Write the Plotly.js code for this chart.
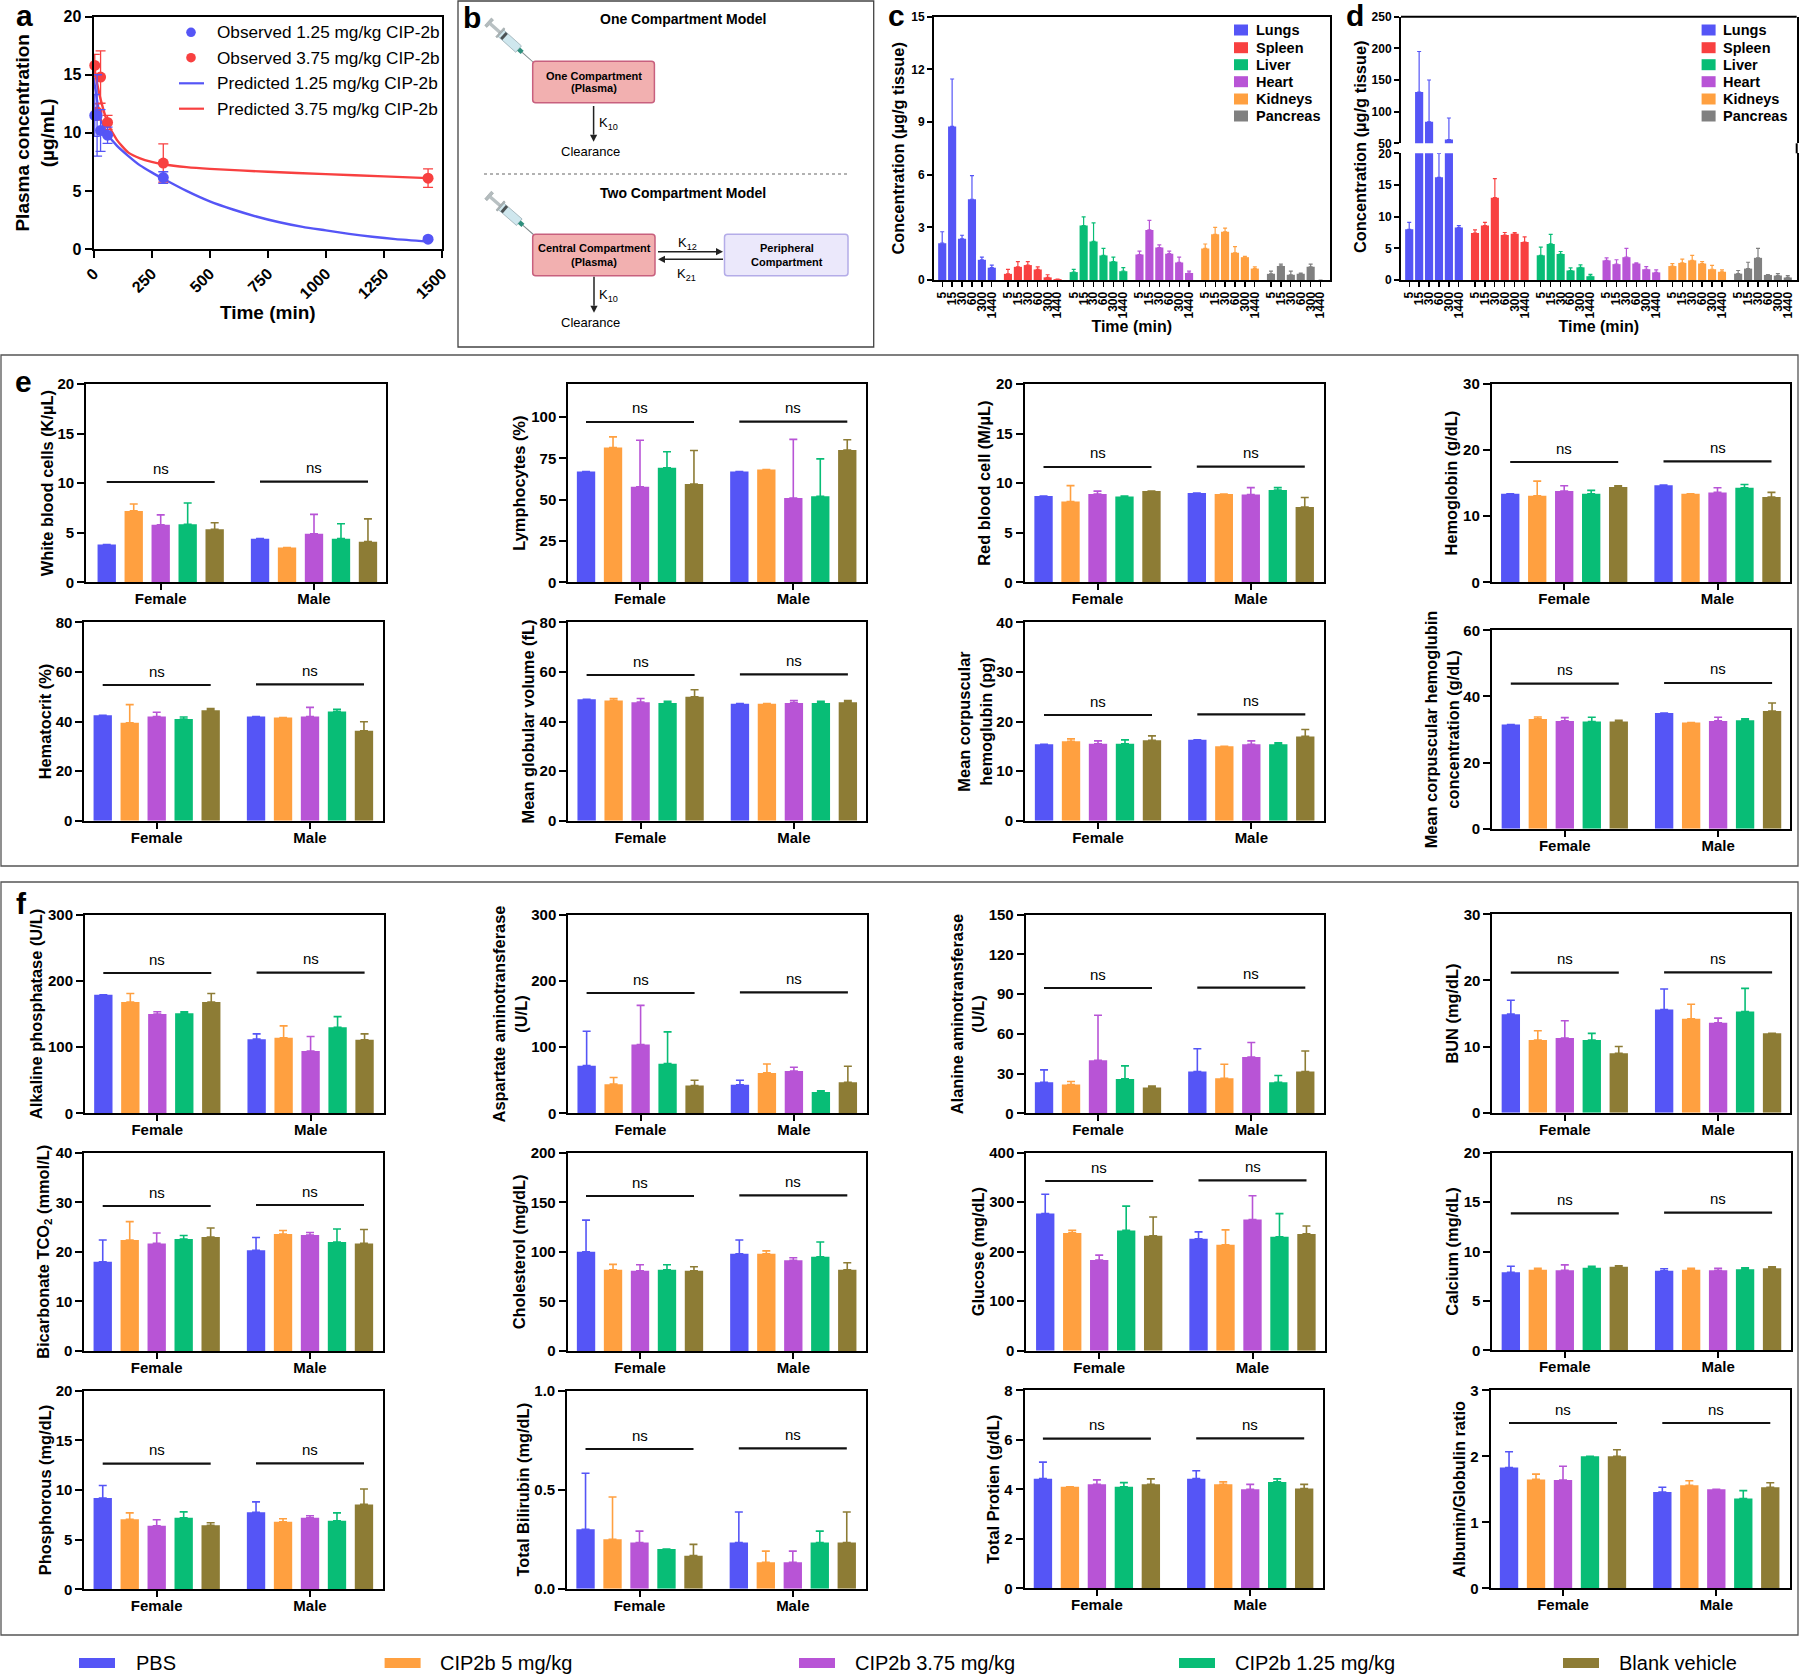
<!DOCTYPE html>
<html><head><meta charset="utf-8">
<script src="https://cdn.plot.ly/plotly-3.0.1.min.js"></script>
<style>html,body{margin:0;padding:0;background:#fff}#chart{width:1800px;height:1676px}</style>
</head><body><div id="chart"></div>
<script>
// ---------- Shared labels ----------
const sexes = ['Female', 'Male'];
const treatments = ['PBS', 'CIP2b 5 mg/kg', 'CIP2b 3.75 mg/kg', 'CIP2b 1.25 mg/kg', 'Blank vehicle'];
const treatmentColors = ['#5555f6', '#ffa040', '#b854d6', '#08bd76', '#8d7c35'];
const organs = ['Lungs', 'Spleen', 'Liver', 'Heart', 'Kidneys', 'Pancreas'];
const organColors = ['#5555f6', '#f84040', '#08bd76', '#b854d6', '#ffa040', '#808080'];
const tissueTimes = ['5', '15', '30', '60', '300', '1440'];

// ---------- Panel a ----------
const obsTime = [5, 15, 30, 60, 300, 1440];
const obsLow = [11.5, 11.5, 10.2, 9.8, 6.15, 0.85];
const obsLowErr = [1.8, 3.5, 1.8, 0.7, 0.5, 0.15];
const obsHigh = [15.8, 11.8, 14.8, 10.9, 7.4, 6.1];
const obsHighErr = [0.95, 0.7, 2.25, 0.6, 1.65, 0.8];
const predLowT = [0, 15, 30, 60, 100, 150, 200, 250, 300, 400, 500, 600, 700, 800, 900, 1000, 1100, 1200, 1300, 1440];
const predLow = [14.8, 12.8, 11.2, 9.9, 8.9, 8.0, 7.2, 6.6, 6.05, 5.0, 4.1, 3.4, 2.8, 2.3, 1.9, 1.6, 1.3, 1.05, 0.85, 0.65];
const predHighT = [0, 15, 30, 60, 100, 150, 200, 250, 300, 400, 500, 750, 1000, 1250, 1440];
const predHigh = [16, 14.3, 12.9, 10.9, 9.4, 8.3, 7.8, 7.5, 7.3, 7.05, 6.9, 6.65, 6.45, 6.25, 6.1];

// ---------- Panel c (value, error-bar top) ----------
const cLungs = [2.1, 8.75, 2.35, 4.6, 1.15, 0.7],   cLungsTop = [2.75, 11.45, 2.55, 5.95, 1.3, 0.85];
const cSpleen = [0.35, 0.75, 0.85, 0.6, 0.15, 0.05], cSpleenTop = [0.6, 1.05, 1.05, 0.75, 0.3, 0.05];
const cLiver = [0.45, 3.1, 2.2, 1.4, 1.05, 0.5],    cLiverTop = [0.6, 3.6, 3.25, 1.8, 1.3, 0.7];
const cHeart = [1.45, 2.85, 1.85, 1.5, 1.0, 0.4],   cHeartTop = [1.65, 3.4, 2.0, 1.65, 1.3, 0.5];
const cKidneys = [1.8, 2.6, 2.75, 1.55, 1.3, 0.65], cKidneysTop = [2.05, 3.0, 2.95, 1.9, 1.35, 0.75];
const cPancreas = [0.35, 0.8, 0.3, 0.35, 0.75, 0],  cPancreasTop = [0.5, 0.9, 0.5, 0.4, 0.9, 0];

// ---------- Panel d ----------
const dLungs = [8, 131, 84, 16.2, 56, 8.3],        dLungsTop = [9.1, 195, 150, 20, 90, 8.6];
const dSpleen = [7.4, 8.6, 13, 7.1, 7.3, 6.0],     dSpleenTop = [7.9, 9.1, 16, 7.5, 7.5, 6.8];
const dLiver = [3.9, 5.7, 4.1, 1.5, 2.0, 0.6],     dLiverTop = [5.2, 7.2, 4.5, 1.9, 2.4, 0.9];
const dHeart = [3.1, 2.5, 3.6, 2.6, 1.7, 1.2],     dHeartTop = [3.5, 3.2, 5.0, 2.7, 2.1, 1.6];
const dKidneys = [2.2, 2.7, 3.1, 2.6, 1.7, 1.3],   dKidneysTop = [2.6, 3.3, 3.9, 2.9, 2.3, 1.6];
const dPancreas = [1.0, 1.8, 3.5, 0.8, 0.7, 0.4],  dPancreasTop = [1.5, 2.8, 5.0, 0.85, 1.0, 0.7];

// ---------- Panel e (five Female then five Male; top = error-bar top) ----------
const wbc = [3.8, 7.2, 5.8, 5.85, 5.35, 4.4, 3.5, 4.9, 4.4, 4.1];
const wbcTop = [3.8, 7.9, 6.8, 8.0, 6.0, 4.4, 3.5, 6.85, 5.9, 6.4];
const lymph = [67, 81.5, 57.8, 69.3, 59.5, 67, 68.3, 51, 52, 80];
const lymphTop = [67, 88, 86, 79, 79.8, 67, 68.3, 86.5, 74.7, 86.3];
const rbc = [8.7, 8.15, 8.9, 8.65, 9.2, 9.0, 8.9, 8.85, 9.3, 7.6];
const rbcTop = [8.7, 9.75, 9.2, 8.7, 9.2, 9.0, 8.9, 9.55, 9.55, 8.55];
const hgb = [13.4, 13.1, 13.8, 13.4, 14.4, 14.7, 13.4, 13.6, 14.3, 12.9];
const hgbTop = [13.4, 15.3, 14.6, 13.9, 14.6, 14.7, 13.4, 14.3, 14.8, 13.6];
const hct = [42.5, 39.5, 42, 41, 44.5, 42, 41.6, 42, 44, 36.3];
const hctTop = [42.5, 46.8, 43.7, 41.8, 45.2, 42, 41.6, 45.7, 44.9, 39.9];
const mgv = [49, 48.5, 47.8, 47.5, 50, 47.2, 47.2, 47.5, 47.5, 47.8];
const mgvTop = [49, 49.3, 49.3, 48.1, 52.8, 47.2, 47.2, 48.4, 48.1, 48.4];
const mch = [15.4, 16, 15.5, 15.5, 16.2, 16.3, 15, 15.4, 15.4, 17];
const mchTop = [15.4, 16.5, 16.1, 16.3, 17.1, 16.3, 15, 16.1, 15.7, 18.4];
const mchc = [31.5, 33.2, 32.6, 32.4, 32.4, 35, 32.1, 32.6, 32.8, 35.6];
const mchcTop = [31.5, 33.8, 33.6, 33.7, 32.8, 35, 32.1, 33.7, 33.2, 38];

// ---------- Panel f ----------
const alp = [179, 168, 150, 151, 168, 112, 114, 94, 130, 111];
const alpTop = [179, 181, 153.5, 153.5, 181, 120, 132, 116, 146, 120];
const ast = [72, 44, 104, 75, 42, 43, 61, 64, 32, 47];
const astTop = [124, 54, 163, 123, 50, 50, 74.5, 69.5, 34, 71];
const alt = [23.5, 21.7, 40, 26, 19.5, 31.5, 26.5, 42.5, 23.5, 31.5];
const altTop = [32.8, 24, 74, 35.8, 20.5, 48.8, 37, 53.5, 28.5, 47];
const bun = [14.9, 11, 11.3, 11, 9, 15.6, 14.2, 13.6, 15.3, 12];
const bunTop = [17, 12.4, 13.9, 12, 10, 18.7, 16.4, 14.3, 18.8, 12];
const tco2 = [18, 22.4, 21.7, 22.6, 23, 20.3, 23.6, 23.4, 22, 21.7];
const tco2Top = [22.4, 26.1, 23.8, 23.3, 24.8, 22.9, 24.3, 23.9, 24.6, 24.5];
const chol = [100, 82, 81, 82, 81, 98, 98, 91.5, 95, 82];
const cholTop = [132, 87.4, 87, 87, 85, 112, 101, 94, 110, 89];
const glu = [277, 238, 183, 243, 232, 226, 214, 265, 230, 236];
const gluTop = [316, 243, 193, 292, 270, 240, 244, 313, 277, 252];
const ca = [7.9, 8.15, 8.1, 8.35, 8.45, 8.05, 8.15, 8.1, 8.2, 8.3];
const caTop = [8.5, 8.3, 8.65, 8.5, 8.55, 8.25, 8.3, 8.3, 8.35, 8.45];
const phos = [9.2, 7.05, 6.4, 7.2, 6.45, 7.75, 6.8, 7.2, 6.9, 8.55];
const phosTop = [10.45, 7.7, 7.0, 7.8, 6.7, 8.8, 7.1, 7.4, 7.7, 10.1];
const bili = [0.3, 0.25, 0.233, 0.2, 0.167, 0.233, 0.133, 0.133, 0.233, 0.233];
const biliTop = [0.583, 0.463, 0.291, 0.2, 0.224, 0.387, 0.19, 0.19, 0.291, 0.387];
const tp = [4.43, 4.1, 4.2, 4.1, 4.2, 4.43, 4.2, 4.0, 4.3, 4.03];
const tpTop = [5.1, 4.1, 4.38, 4.27, 4.42, 4.75, 4.3, 4.2, 4.42, 4.2];
const ag = [1.83, 1.65, 1.64, 2.0, 2.0, 1.46, 1.56, 1.5, 1.36, 1.53];
const agTop = [2.07, 1.73, 1.85, 2.0, 2.1, 1.53, 1.63, 1.5, 1.48, 1.6];

// ---------- Layout geometry of the small-multiple panels (pixels) ----------
const panels = [
 {v:wbc,  top:wbcTop,  l:86.1,  r:385.8,  t:384,   b:582.3,  fx:160.7,  ymax:20,  dt:5,   ns:[482,481.7],     st:0, title:'White blood cells (K/µL)'},
 {v:lymph,top:lymphTop,l:568.3, r:865.7,  t:384,   b:582.3,  fx:640,    ymax:120, dt:25,  ns:[422,421.7],     st:2, title:'Lymphocytes (%)'},
 {v:rbc,  top:rbcTop,  l:1024.6,r:1323.7, t:384,   b:582.3,  fx:1097.5, ymax:20,  dt:5,   ns:[467,466.7],     st:1, title:'Red blood cell (M/µL)'},
 {v:hgb,  top:hgbTop,  l:1491.8,r:1790.4, t:384,   b:582.3,  fx:1564.2, ymax:30,  dt:10,  ns:[462,461.3],     st:1, title:'Hemoglobin (g/dL)'},
 {v:hct,  top:hctTop,  l:84.4,  r:383,    t:622.3, b:820.7,  fx:156.7,  ymax:80,  dt:20,  ns:[685,684.3],     st:0, title:'Hematocrit (%)'},
 {v:mgv,  top:mgvTop,  l:568.3, r:866,    t:622.3, b:820.7,  fx:640.6,  ymax:80,  dt:20,  ns:[675,674.3],     st:1, title:'Mean globular volume (fL)'},
 {v:mch,  top:mchTop,  l:1025,  r:1324,   t:622.3, b:820.7,  fx:1098,   ymax:40,  dt:10,  ns:[715,714.3],     st:0, title:'Mean corpuscular<br>hemoglubin (pg)'},
 {v:mchc, top:mchcTop, l:1492,  r:1790.4, t:630.3, b:828.7,  fx:1564.8, ymax:60,  dt:20,  ns:[683.7,683],     st:0, title:'Mean corpuscular hemoglubin<br>concentration (g/dL)'},
 {v:alp,  top:alpTop,  l:85,    r:383.5,  t:914.7, b:1113.3, fx:157.3,  ymax:300, dt:100, ns:[973,972.7],     st:1, title:'Alkaline phosphatase (U/L)'},
 {v:ast,  top:astTop,  l:568.3, r:866.8,  t:914.7, b:1113.3, fx:640.6,  ymax:300, dt:100, ns:[993,992.3],     st:0, title:'Aspartate aminotransferase<br>(U/L)'},
 {v:alt,  top:altTop,  l:1025.7,r:1324.2, t:914.7, b:1113.3, fx:1098,   ymax:150, dt:30,  ns:[988,987.7],     st:0, title:'Alanine aminotransferase<br>(U/L)'},
 {v:bun,  top:bunTop,  l:1492.4,r:1790.4, t:914.3, b:1112.7, fx:1564.8, ymax:30,  dt:10,  ns:[972.7,972.3],   st:1, title:'BUN (mg/dL)'},
 {v:tco2, top:tco2Top, l:84.4,  r:383,    t:1152.7,b:1351,   fx:156.7,  ymax:40,  dt:10,  ns:[1206,1205],     st:2, title:'Bicarbonate TCO<sub>2</sub> (mmol/L)'},
 {v:chol, top:cholTop, l:567.7, r:866,    t:1152.7,b:1351,   fx:640,    ymax:200, dt:50,  ns:[1196,1195.3],   st:1, title:'Cholesterol (mg/dL)'},
 {v:glu,  top:gluTop,  l:1026.3,r:1324.8, t:1152.7,b:1350.7, fx:1099.2, ymax:400, dt:100, ns:[1181,1180.3],   st:1, title:'Glucose (mg/dL)'},
 {v:ca,   top:caTop,   l:1492.4,r:1790.9, t:1152.7,b:1350.3, fx:1564.8, ymax:20,  dt:5,   ns:[1213.3,1212.7], st:1, title:'Calcium (mg/dL)'},
 {v:phos, top:phosTop, l:84.4,  r:383,    t:1390.7,b:1589.3, fx:156.7,  ymax:20,  dt:5,   ns:[1463.7,1463.3], st:0, title:'Phosphorous (mg/dL)'},
 {v:bili, top:biliTop, l:567.2, r:865.7,  t:1390.7,b:1588.7, fx:639.5,  ymax:1,   dt:0.5, ns:[1449,1448.3],   st:1, title:'Total Bilirubin (mg/dL)', fmt:'.1f'},
 {v:tp,   top:tpTop,   l:1024.6,r:1323,   t:1390.3,b:1588.3, fx:1096.9, ymax:8,   dt:2,   ns:[1438.7,1438.3], st:1, title:'Total Protien (g/dL)'},
 {v:ag,   top:agTop,   l:1490.7,r:1789.8, t:1390.3,b:1588.3, fx:1563,   ymax:3,   dt:1,   ns:[1423,1423],     st:1, title:'Albumin/Globulin ratio'}
];

// ---------- Helpers ----------
const W = 1800, H = 1676, FF = 'Liberation Sans, Arial, sans-serif', INK = '#000';
const px = x => x / W, py = y => 1 - y / H;
const traces = [], shapes = [], annotations = [];
const layout = {
  width: W, height: H, margin: {l:0, r:0, t:0, b:0}, paper_bgcolor: '#fff', plot_bgcolor: 'rgba(0,0,0,0)',
  showlegend: false, barmode: 'group', bargap: 0.12, bargroupgap: 0.32,
  font: {family: FF, color: INK}, shapes, annotations
};
let axisCount = 0;
function addAxes(g, xOpt, yOpt) {
  axisCount++;
  const n = axisCount === 1 ? '' : axisCount;
  const base = {showgrid:false, zeroline:false, showline:true, linewidth:2, linecolor:INK, mirror:true,
                ticks:'outside', tickwidth:2, ticklen:7, tickcolor:INK};
  layout['xaxis' + n] = Object.assign({}, base, {domain:[px(g.l), px(g.r)], anchor:'y' + n}, xOpt);
  layout['yaxis' + n] = Object.assign({}, base, {domain:[py(g.b), py(g.t)], anchor:'x' + n}, yOpt);
  return {x:'x' + n, y:'y' + n};
}
const tf = (size, weight=700) => ({family:FF, size, color:INK, weight});
function txt(x, y, text, size, weight=400, xanchor='center', extra={}) {
  annotations.push(Object.assign({xref:'paper', yref:'paper', x:px(x), y:py(y), text, showarrow:false,
    xanchor, yanchor:'middle', font:tf(size, weight), borderpad:0, borderwidth:0}, extra));
}
function rect(x0, y0, x1, y1, fill, line='rgba(0,0,0,0)', w=0, layer='above') {
  shapes.push({type:'rect', xref:'paper', yref:'paper', x0:px(x0), x1:px(x1), y0:py(y0), y1:py(y1),
    fillcolor:fill, line:{color:line, width:w}, layer});
}
function seg(x0, y0, x1, y1, color=INK, w=2, dash='solid') {
  shapes.push({type:'line', xref:'paper', yref:'paper', x0:px(x0), x1:px(x1), y0:py(y0), y1:py(y1),
    line:{color, width:w, dash}});
}
function poly(pts, fill, line='rgba(0,0,0,0)', w=0) {
  const path = pts.map((p, i) => (i ? 'L' : 'M') + px(p[0]) + ',' + py(p[1])).join(' ') + ' Z';
  shapes.push({type:'path', xref:'paper', yref:'paper', path, fillcolor:fill, line:{color:line, width:w}});
}
function dot(x, y, r, fill) {
  shapes.push({type:'circle', xref:'paper', yref:'paper', x0:px(x - r), x1:px(x + r), y0:py(y + r), y1:py(y - r),
    fillcolor:fill, line:{width:0, color:fill}});
}
function arrow(x0, y0, x1, y1) {
  const d = Math.hypot(x1 - x0, y1 - y0), ux = (x1 - x0) / d, uy = (y1 - y0) / d, s = 7, h = 3.6;
  seg(x0, y0, x1 - ux * s, y1 - uy * s, '#222', 1.5);
  poly([[x1, y1], [x1 - ux * s - uy * h, y1 - uy * s + ux * h], [x1 - ux * s + uy * h, y1 - uy * s - ux * h]], '#222');
}
function syringe(tx, ty, ex, ey) {
  const ux = ex - tx, uy = ey - ty, len = Math.hypot(ux, uy), nx = -uy / len, ny = ux / len;
  const part = (a, b, hw, fill, line='rgba(0,0,0,0)', w=0) => {
    const pa = [tx + ux * a, ty + uy * a], pb = [tx + ux * b, ty + uy * b];
    poly([[pa[0] + nx * hw, pa[1] + ny * hw], [pb[0] + nx * hw, pb[1] + ny * hw],
          [pb[0] - nx * hw, pb[1] - ny * hw], [pa[0] - nx * hw, pa[1] - ny * hw]], fill, line, w);
  };
  part(0.76, 1, 0.5, '#7d8a8c');
  part(0, 0.05, 5, '#b4bcbe', '#8e989a', 0.5);
  part(0.05, 0.3, 1.7, '#b9c1c3');
  part(0.28, 0.68, 4.3, '#cfe7ee', '#8fa4aa', 0.7);
  part(0.26, 0.29, 6, '#aab3b5', '#8e989a', 0.5);
  part(0.33, 0.38, 4.1, '#4c5254');
  part(0.68, 0.76, 2.2, '#2f8f7d');
}
function roundBox(x0, y0, x1, y1, fill, line) {
  const r = 3, X = px, Y = py;
  const path = `M${X(x0 + r)},${Y(y0)} L${X(x1 - r)},${Y(y0)} Q${X(x1)},${Y(y0)} ${X(x1)},${Y(y0 + r)} ` +
    `L${X(x1)},${Y(y1 - r)} Q${X(x1)},${Y(y1)} ${X(x1 - r)},${Y(y1)} L${X(x0 + r)},${Y(y1)} ` +
    `Q${X(x0)},${Y(y1)} ${X(x0)},${Y(y1 - r)} L${X(x0)},${Y(y0 + r)} Q${X(x0)},${Y(y0)} ${X(x0 + r)},${Y(y0)} Z`;
  shapes.push({type:'path', xref:'paper', yref:'paper', path, fillcolor:fill, line:{color:line, width:1.5}});
}

// ---------- Panel a ----------
{
  const ax = addAxes({l:93.6, r:442, t:16.7, b:249},
    {range:[0,1500], tick0:0, dtick:250, tickangle:-45, tickfont:tf(16),
     title:{text:'Time (min)', font:tf(19), standoff:5}},
    {range:[0,20], dtick:5, tickfont:tf(16),
     title:{text:'Plasma concentration<br>(µg/mL)', font:tf(19), standoff:4}});
  const line = (x, y, c, name) => traces.push({type:'scatter', mode:'lines', x, y, name, xaxis:ax.x, yaxis:ax.y,
    line:{color:c, width:2.4, shape:'spline', smoothing:0.6}, cliponaxis:false});
  line(predLowT, predLow, '#5555f6', 'Predicted 1.25 mg/kg CIP-2b');
  line(predHighT, predHigh, '#f84040', 'Predicted 3.75 mg/kg CIP-2b');
  const pts = (y, e, c, name) => traces.push({type:'scatter', mode:'markers', x:obsTime, y, name, xaxis:ax.x, yaxis:ax.y,
    marker:{color:c, size:11}, cliponaxis:false,
    error_y:{type:'data', array:e, visible:true, color:c, thickness:1.3, width:5}});
  pts(obsHigh, obsHighErr, '#f84040', 'Observed 3.75 mg/kg CIP-2b');
  pts(obsLow, obsLowErr, '#5555f6', 'Observed 1.25 mg/kg CIP-2b');
  dot(191, 32.3, 4.8, '#5555f6'); dot(191, 57.7, 4.8, '#f84040');
  seg(179, 83.3, 204, 83.3, '#5555f6', 2.2); seg(179, 108.7, 204, 108.7, '#f84040', 2.2);
  txt(217, 32.3, 'Observed 1.25 mg/kg CIP-2b', 17.2, 400, 'left');
  txt(217, 57.7, 'Observed 3.75 mg/kg CIP-2b', 17.2, 400, 'left');
  txt(217, 83.3, 'Predicted 1.25 mg/kg CIP-2b', 17.2, 400, 'left');
  txt(217, 108.7, 'Predicted 3.75 mg/kg CIP-2b', 17.2, 400, 'left');
}

// ---------- Panel b (schematic) ----------
rect(458, 1, 873.7, 347, 'rgba(0,0,0,0)', '#444', 1.3);
txt(682.6, 19.3, 'One Compartment Model', 14, 700);
syringe(488, 21.7, 533, 62);
roundBox(532.7, 61.3, 654.4, 102.7, '#f2b0b0', '#c8607e');
txt(593.6, 75.7, 'One Compartment', 11, 700); txt(593.6, 88.3, '(Plasma)', 11, 700);
arrow(593.6, 106, 593.6, 141.7);
txt(598.5, 124, 'K<sub>10</sub>', 13, 400, 'left');
txt(590, 151.7, 'Clearance', 13);
seg(484, 174, 848, 174, '#999', 1.3, 'dot');
txt(682.6, 193.3, 'Two Compartment Model', 14, 700);
syringe(488, 195, 534, 235);
roundBox(532.7, 234.3, 655, 275.7, '#f2b0b0', '#c8607e');
txt(594, 248.3, 'Central Compartment', 11, 700); txt(594, 261.7, '(Plasma)', 11, 700);
roundBox(724.5, 234.3, 848, 275.7, '#ebe8fb', '#b4ace8');
txt(786.5, 248.3, 'Peripheral', 11, 700); txt(786.5, 261.7, 'Compartment', 11, 700);
arrow(658, 251.7, 723, 251.7); arrow(723, 259.3, 658, 259.3);
txt(687, 243.5, 'K<sub>12</sub>', 13); txt(686, 274, 'K<sub>21</sub>', 13);
arrow(594, 276.7, 594, 312.7);
txt(598.5, 295, 'K<sub>10</sub>', 13, 400, 'left');
txt(590.7, 322.3, 'Clearance', 13);

// ---------- Panels c, d ----------
const BARSTEP = 6.63, BARW = 0.82;
const tickPos = [], tickTxt = [];
organs.forEach((_, g) => tissueTimes.forEach((t, i) => { tickPos.push(g * BARSTEP + i); tickTxt.push(t); }));
const organX = g => tissueTimes.map((_, i) => g * BARSTEP + i);
const errOf = (v, top) => top.map((t, i) => Math.max(0, t - v[i]));
function organBars(ax, g, v, top, group) {
  traces.push({type:'bar', x:organX(g), y:v, name:organs[g], xaxis:ax.x, yaxis:ax.y, width:BARW, offsetgroup:group,
    marker:{color:organColors[g], line:{width:0}},
    error_y:{type:'data', symmetric:false, array:errOf(v, top), arrayminus:v.map(() => 0), visible:true,
             color:organColors[g], thickness:1.2, width:2}});
}
const tissueX = {range:[-0.828, 39.05], tickmode:'array', tickvals:tickPos, ticktext:tickTxt, tickangle:-90,
                 tickfont:tf(12), ticklen:5, tickwidth:1.3, title:{text:'Time (min)', font:tf(16), standoff:3}};
{
  const ax = addAxes({l:934, r:1329.5, t:16.7, b:280}, tissueX,
    {range:[0,15], dtick:3, tickfont:tf(12), ticklen:5,
     title:{text:'Concentration (µg/g tissue)', font:tf(16.4), standoff:2}});
  [[cLungs,cLungsTop],[cSpleen,cSpleenTop],[cLiver,cLiverTop],[cHeart,cHeartTop],[cKidneys,cKidneysTop],[cPancreas,cPancreasTop]]
    .forEach((p, g) => organBars(ax, g, p[0], p[1], 'c'));
  // Panel d, lower part of the broken axis
  const low = addAxes({l:1401, r:1796.7, t:153.3, b:280}, Object.assign({}, tissueX, {mirror:false}),
    {range:[0,20], dtick:5, tickfont:tf(12), ticklen:5});
  const dSets = [[dLungs,dLungsTop],[dSpleen,dSpleenTop],[dLiver,dLiverTop],[dHeart,dHeartTop],[dKidneys,dKidneysTop],[dPancreas,dPancreasTop]];
  dSets.forEach((p, g) => organBars(low, g, p[0], p[1], 'd'));
  // upper part of the broken axis
  const up = addAxes({l:1401, r:1796.7, t:16.7, b:143.3},
    {range:[-0.828, 39.05], showline:false, mirror:false, ticks:'', showticklabels:false},
    {range:[50,250], dtick:50, tick0:50, tickfont:tf(12), ticklen:5});
  organBars(up, 0, dLungs, dLungsTop, 'dUp');
  seg(1401, 16.7, 1796.7, 16.7); seg(1796.7, 143.3, 1796.7, 153.3);
  txt(1360, 147, 'Concentration (µg/g tissue)', 16.4, 700, 'center', {textangle:-90});
  // legends
  [[1234, 1255.6], [1701.6, 1723]].forEach(([sx, tx]) => organs.forEach((o, i) => {
    const y = [30, 47.7, 64.7, 81.7, 99, 116][i];
    rect(sx, y - 5.5, sx + 14, y + 5.5, organColors[i]);
    txt(tx, y, o, 14.5, 700, 'left');
  }));
}

// ---------- Panels e, f ----------
const MALE_STEP = 153.3, NS_HALF = 54;
panels.forEach(p => {
  const ax = addAxes(p,
    {type:'category', categoryorder:'array', categoryarray:sexes, ticklen:6, ticklabelstandoff:-4,
     range:[(p.l - p.fx) / MALE_STEP, (p.r - p.fx) / MALE_STEP], tickfont:tf(15)},
    {range:[0, p.ymax], tick0:0, dtick:p.dt, tickfont:tf(15), tickformat:p.fmt || '',
     title:{text:p.title, font:tf(16.4), standoff:p.st}});
  treatments.forEach((name, g) => {
    const y = [p.v[g], p.v[g + 5]], top = [p.top[g], p.top[g + 5]];
    traces.push({type:'bar', x:sexes, y, name, xaxis:ax.x, yaxis:ax.y,
      marker:{color:treatmentColors[g], line:{width:0}},
      error_y:{type:'data', symmetric:false, array:errOf(y, top), arrayminus:[0, 0], visible:true,
               color:treatmentColors[g], thickness:1.6, width:4}});
  });
  p.ns.forEach((ny, i) => {
    const c = p.fx + i * MALE_STEP;
    seg(c - NS_HALF, ny, c + NS_HALF, ny, '#111', 2.2);
    txt(c, ny - 14, 'ns', 15);
  });
});

// ---------- Frames, panel letters, shared legend ----------
rect(1, 355, 1798, 866, 'rgba(0,0,0,0)', '#555', 1.3);
rect(1, 882, 1798, 1635, 'rgba(0,0,0,0)', '#555', 1.3);
[['a',24,16],['b',472,18],['c',896,16],['d',1355,16],['e',23,381],['f',21,903]].forEach(([t,x,y]) => txt(x, y, t, 30, 700));
[[79,135.5],[384.6,440],[799,855],[1179,1234.7],[1563,1618.7]].forEach(([sx,tx], i) => {
  rect(sx, 1658, sx + 36, 1668, treatmentColors[i]);
  txt(tx, 1663, treatments[i], 20, 400, 'left');
});

Plotly.newPlot('chart', traces, layout, {displayModeBar:false, staticPlot:true});
</script></body></html>
